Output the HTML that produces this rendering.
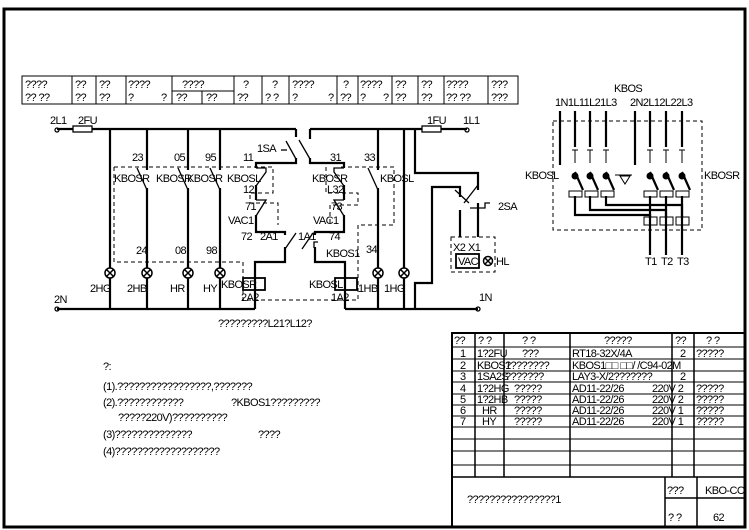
<!DOCTYPE html>
<html><head><meta charset="utf-8"><style>
html,body{margin:0;padding:0;background:#fff;}
svg{display:block;}
text{font-family:"Liberation Sans Narrow","Liberation Sans",sans-serif;font-size:11px;fill:#000;letter-spacing:-0.6px;}
</style></head><body>
<svg width="749" height="530" viewBox="0 0 749 530" xmlns="http://www.w3.org/2000/svg">
<rect x="4" y="9" width="741" height="518" fill="none" stroke="#000" stroke-width="3"/>

<g stroke="#000" stroke-width="1" fill="none">
<rect x="22" y="76" width="496" height="28"/>
<path d="M72 76V104M96 76V104M126 76V104M172 76V104M202 91V104M234 76V104M262 76V104M289 76V104M337 76V104M358 76V104M392 76V104M418 76V104M444 76V104M488 76V104M172 91H234"/>
</g>
<g font-size="10">
<text x="25" y="88">????</text><text x="25" y="101">??  ??</text>
<text x="75" y="88">??</text><text x="75" y="101">??</text>
<text x="99" y="88">??</text><text x="99" y="101">??</text>
<text x="128" y="88">????</text><text x="128" y="101">?</text><text x="161" y="101">?</text>
<text x="182" y="88">????</text><text x="176" y="101">??</text><text x="206" y="101">??</text>
<text x="243" y="88">?</text><text x="237" y="101">??</text>
<text x="272" y="88">?</text><text x="265" y="101">?  ?</text>
<text x="292" y="88">????</text><text x="292" y="101">?</text><text x="328" y="101">?</text>
<text x="343" y="88">?</text><text x="340" y="101">??</text>
<text x="360" y="88" font-size="8">????</text><text x="360" y="101">?</text><text x="383" y="101">?</text>
<text x="395" y="88">??</text><text x="395" y="101">??</text>
<text x="421" y="88">??</text><text x="421" y="101">??</text>
<text x="446" y="88">????</text><text x="446" y="101">??  ??</text>
<text x="491" y="88">???</text><text x="491" y="101">???</text>
</g>

<g stroke="#000" stroke-width="2.2" fill="none">
<path d="M57 129H73M92 129H296"/>
<path d="M310 129H422M441 129H467"/>
<path d="M57 309H255M345 309H478"/>
<path d="M110 129V268M110 278V309"/>
<path d="M147 129V170M147 188V268M147 278V309"/>
<path d="M188 129V170M188 188V268M188 278V309"/>
<path d="M220 129V170M220 188V268M220 278V309"/>
<path d="M378 129V170M378 188V268M378 278V309"/>
<path d="M404 129V268M404 278V309"/>
<path d="M415 129V173H478V190M478 203V237"/>
<path d="M415 309V283H432V187H460V197M460 210V237"/>
<path d="M296 129V137M310 129V139"/>
<path d="M296 158V163H256V168M256 185V200M256 215V232H285V235M285 247V262H255V309"/>
<path d="M310 158V163H344V168M344 185V200M344 215V232H315V235M315 247V262H345V309"/>
</g>
<g stroke="#000" stroke-width="1.3" fill="none">
<rect x="73" y="126" width="19" height="6"/>
<rect x="422" y="126" width="19" height="6"/>
<path d="M137 168L147 190M178 168L188 190M210 168L220 190M368 168L378 190"/>
<path d="M286 141L296 159M299 140L310 159"/>
<path d="M256 168H266V172L256 186M344 168H334V172L344 186"/>
<path d="M256 200H266L256 216M344 200H334L344 216"/>
<path d="M296 233L285 249M313 233L302 249"/>
<path d="M464 203L478 185M469 203L455 190"/>
<g stroke-width="1.5">
<circle cx="110" cy="273" r="5"/><path d="M106.5 269.5l7 7M113.5 269.5l-7 7"/>
<circle cx="147" cy="273" r="5"/><path d="M143.5 269.5l7 7M150.5 269.5l-7 7"/>
<circle cx="188" cy="273" r="5"/><path d="M184.5 269.5l7 7M191.5 269.5l-7 7"/>
<circle cx="220" cy="273" r="5"/><path d="M216.5 269.5l7 7M223.5 269.5l-7 7"/>
<circle cx="378" cy="273" r="5"/><path d="M374.5 269.5l7 7M381.5 269.5l-7 7"/>
<circle cx="404" cy="273" r="5"/><path d="M400.5 269.5l7 7M407.5 269.5l-7 7"/>
<circle cx="488" cy="261" r="4.5"/><path d="M485 258l6 6M491 258l-6 6"/>
</g>
<rect x="243" y="278" width="22" height="12" stroke-width="1.8"/>
<rect x="335" y="278" width="22" height="12" stroke-width="1.8"/>
<rect x="456" y="254" width="23" height="14" stroke-width="1.8"/>
<path d="M470 208H485V203H490"/>
<path d="M281 150H287"/>
<path d="M314 248V242H318"/>
<circle cx="57" cy="130" r="2"/><circle cx="57" cy="309" r="2"/>
<circle cx="467" cy="130" r="2"/><circle cx="478" cy="309" r="2"/>
</g>
<g stroke="#000" stroke-width="1" fill="none" stroke-dasharray="4,3">
<path d="M114 167H273V193H250V203H278V225"/>
<path d="M114 167V262H243V300H358V225H394V167H340"/>
<path d="M326 167V193H358V205H330V225"/>
<rect x="451" y="237" width="44" height="35"/>
</g>

<g font-size="11">
<text x="50" y="124">2L1</text><text x="78" y="124">2FU</text>
<text x="427" y="124">1FU</text><text x="463" y="124">1L1</text>
<text x="54" y="303">2N</text><text x="479" y="301">1N</text>
<text x="257" y="152">1SA</text>
<text x="132" y="161">23</text><text x="174" y="161">05</text><text x="205" y="161">95</text><text x="243" y="161">11</text>
<text x="330" y="161">31</text><text x="364" y="161">33</text>
<text x="114" y="182">KBOSR</text><text x="156" y="182">KBOSR</text><text x="187" y="182">KBOSR</text><text x="227" y="182">KBOSL</text>
<text x="312" y="182">KBOSR</text><text x="380" y="182">KBOSL</text>
<text x="243" y="193">12</text><text x="327" y="193">L32</text>
<text x="245" y="210">71</text><text x="331" y="210">73</text>
<text x="228" y="224">VAC1</text><text x="313" y="224">VAC1</text>
<text x="241" y="240">72</text><text x="260" y="240">2A1</text><text x="298" y="240">1A1</text><text x="329" y="240">74</text>
<text x="326" y="257">KBOS1</text><text x="366" y="253">34</text>
<text x="136" y="254">24</text><text x="175" y="254">08</text><text x="206" y="254">98</text>
<text x="90" y="292">2HG</text><text x="127" y="292">2HB</text><text x="170" y="292">HR</text><text x="203" y="292">HY</text><text x="221" y="288">KBOSR</text>
<text x="309" y="288">KBOSL</text><text x="358" y="292">1HB</text><text x="384" y="292">1HG</text>
<text x="241" y="301">2A2</text><text x="331" y="301">1A2</text>
<text x="498" y="210">2SA</text><text x="496" y="265">HL</text><text x="458" y="265">VAC</text>
<text x="453" y="251" font-size="7">X2</text><text x="468" y="251" font-size="7">X1</text>
<text x="218" y="327">?????????L21?L12?</text>
</g>

<g stroke="#000" fill="none">
<rect x="553" y="121" width="149" height="109" stroke-dasharray="4,3" stroke-width="1"/>
<g stroke-width="2.2">
<path d="M560 111V165M635 111V165"/>
<path d="M575 111V147M590 111V147M606 111V147M650 111V147M666 111V147M682 111V147"/>
<path d="M575 172L583 190M590 172L598 190M606 172L614 190M650 172L658 190M666 172L674 190M682 172L690 190"/>
<path d="M575 196V215H650V255M590 196V210H666V255M606 196V205H682V255"/>
<path d="M650 196V218M666 196V218M682 196V218"/>
</g>
<g stroke-width="1">
<path d="M572 150h6M587 150h6M603 150h6M647 150h6M663 150h6M679 150h6M575 150v13M590 150v13M606 150v13M650 150v13M666 150v13M682 150v13"/>
<path d="M615 175H632M620 176l5 8l5-8z"/>
<rect x="569" y="191" width="13" height="6"/><rect x="585" y="191" width="13" height="6"/><rect x="601" y="191" width="13" height="6"/>
<rect x="644" y="191" width="13" height="6"/><rect x="660" y="191" width="13" height="6"/><rect x="676" y="191" width="13" height="6"/>
<rect x="644" y="217" width="13" height="8"/><rect x="660" y="217" width="13" height="8"/><rect x="676" y="217" width="13" height="8"/>
</g>
<g fill="#000" stroke="none">
<circle cx="575" cy="176" r="3.5"/><circle cx="590" cy="176" r="3.5"/><circle cx="606" cy="176" r="3.5"/>
<circle cx="650" cy="176" r="3.5"/><circle cx="666" cy="176" r="3.5"/><circle cx="682" cy="176" r="3.5"/>
</g>
</g>
<g font-size="11">
<text x="614" y="92">KBOS</text>
<text x="555" y="106">1N1L11L21L3</text><text x="630" y="106">2N2L12L22L3</text>
<text x="525" y="179">KBOSL</text><text x="704" y="179">KBOSR</text>
<text x="645" y="265">T1</text><text x="661" y="265">T2</text><text x="677" y="265">T3</text>
</g>

<g font-size="11">
<text x="103" y="370">?:</text>
<text x="103" y="390">(1).?????????????????,???????</text>
<text x="103" y="406">(2).????????????</text><text x="231" y="406">?KBOS1?????????</text>
<text x="118" y="421">?????220V)??????????</text>
<text x="103" y="438">(3)??????????????</text><text x="258" y="438">????</text>
<text x="103" y="455">(4)???????????????????</text>
</g>

<g stroke="#000" fill="none">
<rect x="452" y="333" width="293" height="194" stroke-width="2"/>
<path stroke-width="1" d="M452 347H745M452 359H745M452 371H745M452 382H745M452 394H745M452 405H745M452 416H745M452 427H745M452 439H745M452 451H745M452 465H745"/>
<path stroke-width="1.5" d="M475 333V477M504 333V477M570 333V477M672 333V477M694 333V477M452 477H745M665 477V527M697 477V527M665 498H745"/>
</g>
<g font-size="10">
<text x="454" y="344">??</text><text x="478" y="344">?  ?</text><text x="522" y="344">?  ?</text><text x="604" y="344">?????</text><text x="675" y="344">??</text><text x="706" y="344">?  ?</text>
<text x="460" y="357">1</text><text x="477" y="357">1?2FU</text><text x="522" y="357">???</text><text x="572" y="357">RT18-32X/4A</text><text x="680" y="357">2</text><text x="696" y="357">?????</text>
<text x="460" y="369">2</text><text x="477" y="369">KBOS1</text><text x="505" y="369" font-size="8">????????</text><text x="572" y="369">KBOS1□□ □□/   /C94-02M</text>
<text x="460" y="380">3</text><text x="477" y="380">1SA2S</text><text x="505" y="380">???????</text><text x="572" y="380">LAY3-X/2???????</text><text x="680" y="380">2</text>
<text x="460" y="392">4</text><text x="477" y="392">1?2HG</text><text x="514" y="392">?????</text><text x="572" y="392">AD11-22/26</text><text x="652" y="392">220V 2</text><text x="696" y="392">?????</text>
<text x="460" y="403">5</text><text x="477" y="403">1?2HB</text><text x="514" y="403">?????</text><text x="572" y="403">AD11-22/26</text><text x="652" y="403">220V 2</text><text x="696" y="403">?????</text>
<text x="460" y="414">6</text><text x="482" y="414">HR</text><text x="514" y="414">?????</text><text x="572" y="414">AD11-22/26</text><text x="652" y="414">220V 1</text><text x="696" y="414">?????</text>
<text x="460" y="425">7</text><text x="482" y="425">HY</text><text x="514" y="425">?????</text><text x="572" y="425">AD11-22/26</text><text x="652" y="425">220V 1</text><text x="696" y="425">?????</text>
</g>
<g font-size="11">
<text x="467" y="503">????????????????1</text>
<text x="667" y="494">???</text><text x="705" y="494">KBO-CC</text>
<text x="668" y="521">?  ?</text><text x="713" y="521">62</text>
</g>
</svg>
</body></html>
